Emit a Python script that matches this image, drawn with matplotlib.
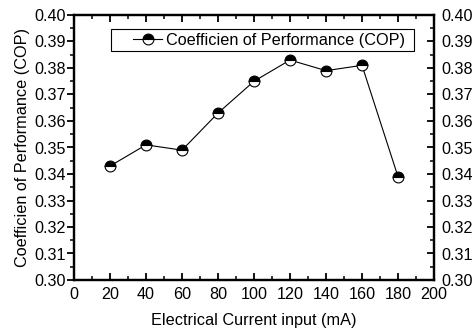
import matplotlib.pyplot as plt
from matplotlib.patches import Rectangle
from matplotlib.ticker import MultipleLocator

plt.rcParams['font.family'] = ['Liberation Sans', 'DejaVu Sans']

current = [20, 40, 60, 80, 100, 120, 140, 160, 180]  # mA
cop = [0.343, 0.351, 0.349, 0.363, 0.375, 0.383, 0.379, 0.381, 0.339]

fig = plt.figure(figsize=(4.75, 3.32), dpi=100)
ax = fig.add_axes([74/475, 1 - 280/332, 360/475, 265/332])

ax.plot(current, cop, color='black', lw=0.8, marker='o', ms=7.8,
        fillstyle='top', markerfacecolor='black', markerfacecoloralt='white',
        markeredgecolor='black', markeredgewidth=0.8,
        label='Coefficien of Performance (COP)')

ax.set_xlim(0, 200)
ax.set_ylim(0.30, 0.40)
ax.xaxis.set_major_locator(MultipleLocator(20))
ax.xaxis.set_minor_locator(MultipleLocator(10))
ax.yaxis.set_major_locator(MultipleLocator(0.01))
ax.yaxis.set_minor_locator(MultipleLocator(0.005))
ax.yaxis.set_major_formatter(lambda v, p: f'{v:.2f}')

for s in ax.spines.values():
    s.set_linewidth(1.6)

ax.tick_params(axis='both', which='major', labelsize=11.6, width=1.3, length=5)
ax.tick_params(axis='both', which='minor', width=1.1, length=3)
ax.tick_params(axis='x', which='both', direction='in', top=True, pad=5)
ax.tick_params(axis='y', which='both', direction='out', pad=1)

# right axis: inward ticks, labels repeated
rax = ax.twinx()
rax.set_ylim(ax.get_ylim())
rax.yaxis.set_major_locator(MultipleLocator(0.01))
rax.yaxis.set_minor_locator(MultipleLocator(0.005))
rax.yaxis.set_major_formatter(lambda v, p: f'{v:.2f}')
rax.tick_params(which='both', direction='in', labelsize=11.6, pad=5)
rax.tick_params(which='major', width=1.3, length=5)
rax.tick_params(which='minor', width=1.1, length=3)
for s in rax.spines.values():
    s.set_linewidth(1.6)

ax.set_xlabel('Electrical Current input (mA)', fontsize=11.7, labelpad=8)
ax.set_ylabel('Coefficien of Performance (COP)', fontsize=11.7, labelpad=3)

# legend with a hand-placed frame
rax.add_patch(Rectangle((0.103, 0.864), 0.842, 0.083, transform=rax.transAxes,
                        facecolor='white', edgecolor='black', lw=0.8, zorder=4))
h, l = ax.get_legend_handles_labels()
leg = rax.legend(h, l, loc='center left', bbox_to_anchor=(0.164, 0.905),
                 fontsize=11.7, frameon=False, handlelength=1.8, borderpad=0,
                 borderaxespad=0, handletextpad=0.2)
leg.set_zorder(5)

fig.savefig('out.png', dpi=100)
